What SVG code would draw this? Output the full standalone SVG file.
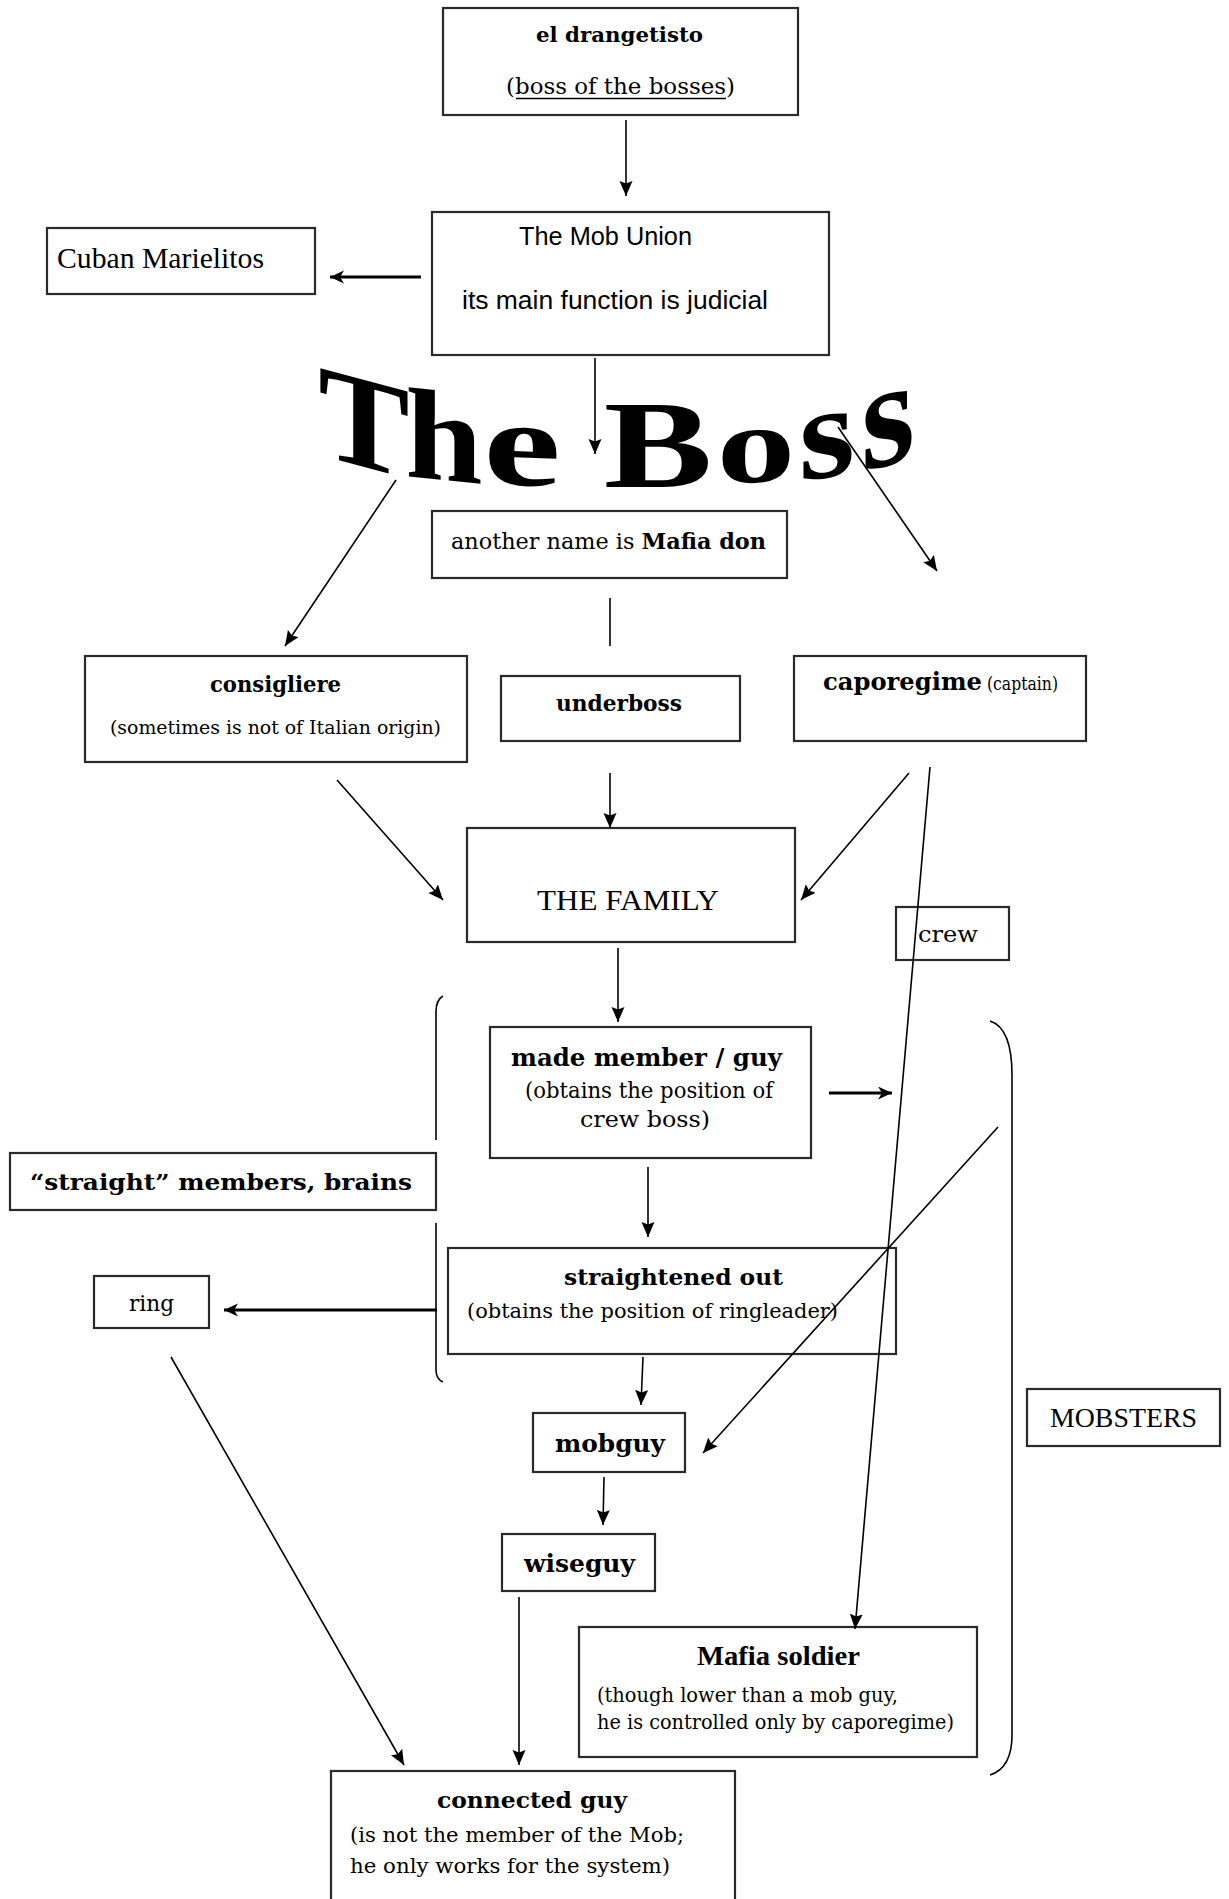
<svg xmlns="http://www.w3.org/2000/svg" width="1229" height="1899" viewBox="0 0 1229 1899">
  <style>
    .box { fill: #fff; stroke: #2a2a2a; stroke-width: 2.2; }
    .ln { stroke: #000; stroke-width: 1.6; fill: none; }
    .lnb { stroke: #000; stroke-width: 2.8; fill: none; }
    .br { stroke: #000; stroke-width: 1.6; fill: none; }
    .sf { font-family: "DejaVu Serif", serif; fill: #000; }
    .tr { font-family: "Liberation Serif", "Times New Roman", serif; fill: #000; }
    .sn { font-family: "Liberation Sans", Arial, sans-serif; fill: #000; }
    .b { font-weight: bold; }
    .big { font-family: "Liberation Serif", "Times New Roman", serif; font-weight: bold; font-size: 100px; fill: #000; }
  </style>
  <defs>
    <marker id="head" markerUnits="userSpaceOnUse" markerWidth="16" markerHeight="14" refX="15" refY="6.5" orient="auto">
      <path d="M0,0 L15,6.5 L0,13 L2.5,6.5 z" fill="#000"/>
    </marker>
    <marker id="headBold" markerUnits="userSpaceOnUse" markerWidth="16" markerHeight="14" refX="14" refY="6.5" orient="auto">
      <path d="M0,0 L14,6.5 L0,13 L4,6.5 z" fill="#000"/>
    </marker>
  </defs>

  <rect width="1229" height="1899" fill="#fff"/>

  <!-- title lettering -->
  <g id="title-boss">
    <text class="big" text-anchor="middle" transform="translate(364,467) skewY(15) scale(1.37,1.33)">T</text>
    <text class="big" text-anchor="middle" transform="translate(444,480) skewY(6) scale(1.39,1.285)">h</text>
    <text class="big" text-anchor="middle" transform="translate(522,485) skewY(2) scale(1.75,1.22)">e</text>
    <text class="big" text-anchor="middle" transform="translate(658,487) scale(1.63,1.24)">B</text>
    <text class="big" text-anchor="middle" transform="translate(756,482) skewY(-3) scale(1.58,1.1)">o</text>
    <text class="big" text-anchor="middle" transform="translate(827,477) skewY(-8) scale(1.44,1.33)">s</text>
    <text class="big" text-anchor="middle" transform="translate(888,465) skewY(-14) scale(1.38,1.52)">s</text>
  </g>

  <g id="n-drangetisto">
    <rect class="box" x="443" y="8" width="355" height="107"/>
    <text class="sf b" x="536" y="42" font-size="21" textLength="167" lengthAdjust="spacingAndGlyphs">el drangetisto</text>
    <text class="sf" x="506" y="94" font-size="23" textLength="229" lengthAdjust="spacingAndGlyphs">(boss of the bosses)</text>
    <line x1="516" y1="98.5" x2="726" y2="98.5" stroke="#000" stroke-width="1.3"/>
  </g>

  <g id="n-mobunion">
    <rect class="box" x="432" y="212" width="397" height="143"/>
    <text class="sn" x="519" y="245" font-size="25" textLength="173" lengthAdjust="spacingAndGlyphs">The Mob Union</text>
    <text class="sn" x="462" y="309" font-size="25" textLength="306" lengthAdjust="spacingAndGlyphs">its main function is judicial</text>
  </g>

  <g id="n-cuban">
    <rect class="box" x="47" y="228" width="268" height="66"/>
    <text class="tr" x="57" y="268" font-size="29" textLength="207" lengthAdjust="spacingAndGlyphs">Cuban Marielitos</text>
  </g>

  <g id="n-mafiadon">
    <rect class="box" x="432" y="511" width="355" height="67"/>
    <text class="sf" x="451" y="549" font-size="22" textLength="315" lengthAdjust="spacingAndGlyphs">another name is <tspan class="b">Mafia don</tspan></text>
  </g>

  <g id="n-consigliere">
    <rect class="box" x="85" y="656" width="382" height="106"/>
    <text class="sf b" x="210" y="692" font-size="22" textLength="131" lengthAdjust="spacingAndGlyphs">consigliere</text>
    <text class="sf" x="110" y="734" font-size="19" textLength="331" lengthAdjust="spacingAndGlyphs">(sometimes is not of Italian origin)</text>
  </g>

  <g id="n-underboss">
    <rect class="box" x="501" y="676" width="239" height="65"/>
    <text class="sf b" x="556" y="711" font-size="22" textLength="126" lengthAdjust="spacingAndGlyphs">underboss</text>
  </g>

  <g id="n-caporegime">
    <rect class="box" x="794" y="656" width="292" height="85"/>
    <text class="sf b" x="823" y="690" font-size="24" textLength="159" lengthAdjust="spacingAndGlyphs">caporegime</text>
    <text class="sf" x="987" y="690" font-size="19" textLength="71" lengthAdjust="spacingAndGlyphs">(captain)</text>
  </g>

  <g id="n-family">
    <rect class="box" x="467" y="828" width="328" height="114"/>
    <text class="tr" x="537" y="910" font-size="30" textLength="182" lengthAdjust="spacingAndGlyphs">THE FAMILY</text>
  </g>

  <g id="n-crew">
    <rect class="box" x="896" y="907" width="113" height="53"/>
    <text class="sf" x="918" y="942" font-size="23" textLength="60" lengthAdjust="spacingAndGlyphs">crew</text>
  </g>

  <g id="n-made">
    <rect class="box" x="490" y="1027" width="321" height="131"/>
    <text class="sf b" x="511" y="1066" font-size="23.5" textLength="271" lengthAdjust="spacingAndGlyphs">made member / guy</text>
    <text class="sf" x="525" y="1098" font-size="21.5" textLength="248" lengthAdjust="spacingAndGlyphs">(obtains the position of</text>
    <text class="sf" x="580" y="1127" font-size="22" textLength="130" lengthAdjust="spacingAndGlyphs">crew boss)</text>
  </g>

  <g id="n-straight">
    <rect class="box" x="10" y="1153" width="426" height="57"/>
    <text class="sf b" x="30" y="1190" font-size="23" textLength="382" lengthAdjust="spacingAndGlyphs">“straight” members, brains</text>
  </g>

  <g id="n-straightened">
    <rect class="box" x="448" y="1248" width="448" height="106"/>
    <text class="sf b" x="564" y="1285" font-size="23" textLength="219" lengthAdjust="spacingAndGlyphs">straightened out</text>
    <text class="sf" x="467" y="1318" font-size="21" textLength="371" lengthAdjust="spacingAndGlyphs">(obtains the position of ringleader)</text>
  </g>

  <g id="n-ring">
    <rect class="box" x="94" y="1276" width="115" height="52"/>
    <text class="sf" x="129" y="1311" font-size="22" textLength="45" lengthAdjust="spacingAndGlyphs">ring</text>
  </g>

  <g id="n-mobguy">
    <rect class="box" x="533" y="1413" width="152" height="59"/>
    <text class="sf b" x="555" y="1452" font-size="23.5" textLength="110" lengthAdjust="spacingAndGlyphs">mobguy</text>
  </g>

  <g id="n-wiseguy">
    <rect class="box" x="502" y="1534" width="153" height="57"/>
    <text class="sf b" x="524" y="1572" font-size="23.5" textLength="111" lengthAdjust="spacingAndGlyphs">wiseguy</text>
  </g>

  <g id="n-mobsters">
    <rect class="box" x="1027" y="1389" width="193" height="57"/>
    <text class="tr" x="1050" y="1427" font-size="28" textLength="147" lengthAdjust="spacingAndGlyphs">MOBSTERS</text>
  </g>

  <g id="n-soldier">
    <rect class="box" x="579" y="1627" width="398" height="130"/>
    <text class="tr b" x="697" y="1665" font-size="28" textLength="163" lengthAdjust="spacingAndGlyphs">Mafia soldier</text>
    <text class="sf" x="597" y="1702" font-size="19.5" textLength="301" lengthAdjust="spacingAndGlyphs">(though lower than a mob guy,</text>
    <text class="sf" x="597" y="1729" font-size="19.5" textLength="357" lengthAdjust="spacingAndGlyphs">he is controlled only by caporegime)</text>
  </g>

  <g id="n-connected">
    <rect class="box" x="331" y="1771" width="404" height="140"/>
    <text class="sf b" x="437" y="1808" font-size="23" textLength="190" lengthAdjust="spacingAndGlyphs">connected guy</text>
    <text class="sf" x="350" y="1842" font-size="20" textLength="334" lengthAdjust="spacingAndGlyphs">(is not the member of the Mob;</text>
    <text class="sf" x="350" y="1873" font-size="20" textLength="320" lengthAdjust="spacingAndGlyphs">he only works for the system)</text>
  </g>

  <!-- connectors and brackets, drawn over the boxes they cross -->
  <g id="connectors">
    <line class="ln" x1="626" y1="120" x2="626" y2="196" marker-end="url(#head)"/>
    <line class="lnb" x1="421" y1="277" x2="330" y2="277" marker-end="url(#headBold)"/>
    <line class="ln" x1="595" y1="358" x2="595" y2="454" marker-end="url(#head)"/>
    <line class="ln" x1="396" y1="480" x2="285" y2="646" marker-end="url(#head)"/>
    <line class="ln" x1="838" y1="427" x2="937" y2="571" marker-end="url(#head)"/>
    <line class="ln" x1="610" y1="598" x2="610" y2="646"/>
    <line class="ln" x1="337" y1="780" x2="443" y2="900" marker-end="url(#head)"/>
    <line class="ln" x1="610" y1="773" x2="610" y2="828" marker-end="url(#head)"/>
    <line class="ln" x1="909" y1="773" x2="801" y2="900" marker-end="url(#head)"/>
    <line class="ln" x1="930" y1="767" x2="855" y2="1629" marker-end="url(#head)"/>
    <line class="ln" x1="618" y1="948" x2="618" y2="1022" marker-end="url(#head)"/>
    <line class="lnb" x1="829" y1="1093" x2="892" y2="1093" marker-end="url(#headBold)"/>
    <line class="ln" x1="648" y1="1167" x2="648" y2="1237" marker-end="url(#head)"/>
    <line class="lnb" x1="437" y1="1310" x2="224" y2="1310" marker-end="url(#headBold)"/>
    <line class="ln" x1="998" y1="1127" x2="703" y2="1453" marker-end="url(#head)"/>
    <line class="ln" x1="643" y1="1357" x2="641" y2="1405" marker-end="url(#head)"/>
    <line class="ln" x1="604" y1="1477" x2="603" y2="1525" marker-end="url(#head)"/>
    <line class="ln" x1="171" y1="1357" x2="404" y2="1765" marker-end="url(#head)"/>
    <line class="ln" x1="519" y1="1597" x2="519" y2="1765" marker-end="url(#head)"/>
    <!-- left bracket, broken where the "straight" members box sits -->
    <path class="br" d="M443,996 Q436,1000 436,1012 L436,1140"/>
    <path class="br" d="M436,1223 L436,1370 Q436,1379 443,1382"/>
    <!-- right bracket -->
    <path class="br" d="M990,1021 Q1012,1028 1012,1075 L1012,1735 Q1012,1768 990,1775"/>
  </g>
</svg>
